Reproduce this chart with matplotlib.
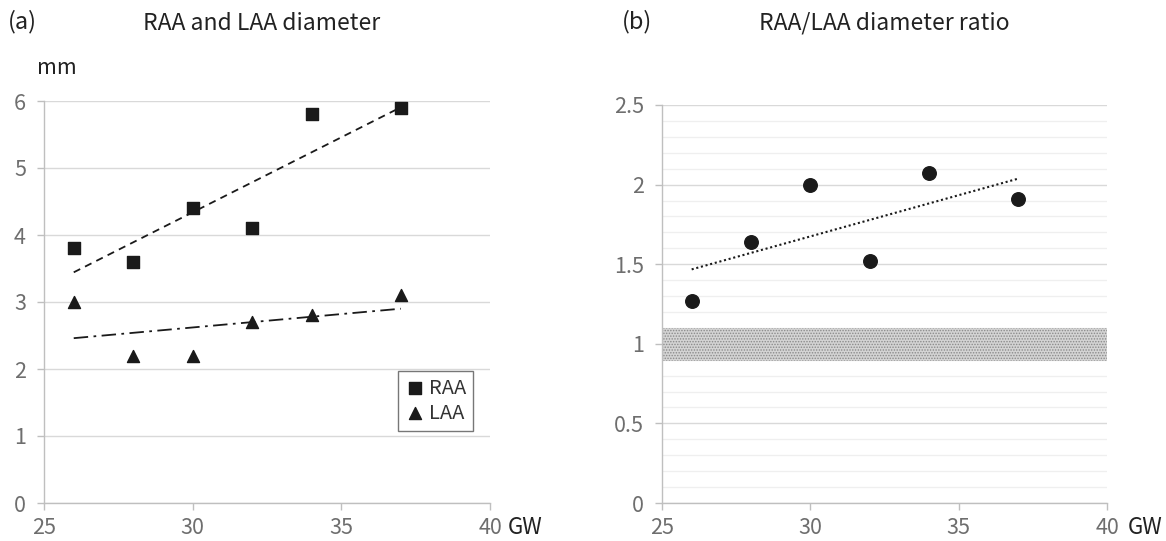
import matplotlib.pyplot as plt
import numpy as np

plt.rcParams["font.family"] = ["Noto Sans CJK JP", "DejaVu Sans"]
plt.rcParams["hatch.color"] = "#7a7a7a"
plt.rcParams["hatch.linewidth"] = 0.7

gw = [26, 28, 30, 32, 34, 37]
raa = [3.8, 3.6, 4.4, 4.1, 5.8, 5.9]
laa = [3.0, 2.2, 2.2, 2.7, 2.8, 3.1]
ratio = [1.27, 1.64, 2.0, 1.52, 2.07, 1.91]
normal_band = (0.89, 1.1)

tick_gray = "#6e6e6e"
grid_gray = "#d9d9d9"


def trend(x, y):
    k, b = np.polyfit(x, y, 1)
    xs = np.array([min(x), max(x)])
    return xs, k * xs + b


def style_axis(ax):
    for s in ["top", "right"]:
        ax.spines[s].set_visible(False)
    for s in ["left", "bottom"]:
        ax.spines[s].set_color("#bfbfbf")
        ax.spines[s].set_linewidth(1.0)
    ax.tick_params(axis="both", colors="#bfbfbf", labelcolor=tick_gray,
                   labelsize=15.5, length=5, width=1.0)
    ax.tick_params(axis="y", pad=8)
    ax.tick_params(axis="x", pad=5)
    ax.set_xlim(25, 40)
    ax.set_xticks([25, 30, 35, 40])
    ax.set_axisbelow(True)


fig = plt.figure(figsize=(11.66, 5.41), dpi=100)

# (a) diameters
ax1 = fig.add_axes([44 / 1166, 38 / 541, 446 / 1166, 402 / 541])
style_axis(ax1)
ax1.set_ylim(0, 6)
ax1.set_yticks(range(0, 7))
ax1.yaxis.grid(True, color=grid_gray, linewidth=1.0)
ax1.scatter(gw, raa, marker="s", s=70, color="#1a1a1a", label="RAA", zorder=3)
ax1.scatter(gw, laa, marker="^", s=75, color="#1a1a1a", label="LAA", zorder=3)
tx, ty = trend(gw, raa)
ax1.plot(tx, ty, color="#1a1a1a", linestyle=(0, (4, 3)), linewidth=1.3)
tx, ty = trend(gw, laa)
ax1.plot(tx, ty, color="#1a1a1a", linestyle=(0, (8, 3, 1.5, 3)), linewidth=1.3)
leg = ax1.legend(loc="lower right", bbox_to_anchor=(0.962, 0.18), fontsize=14.5,
                 frameon=True, fancybox=False, edgecolor="#555555",
                 handletextpad=0.2, borderpad=0.35, labelspacing=0.2,
                 handlelength=1.0, borderaxespad=0)
leg.get_frame().set_linewidth(1.0)
for t in leg.get_texts():
    t.set_color("#333333")

fig.text(8 / 1166, 1 - 22 / 541, "(a)", fontsize=17, color="#222222", va="center")
fig.text(262 / 1166, 1 - 23 / 541, "RAA and LAA diameter", fontsize=16.5,
         color="#222222", ha="center", va="center")
fig.text(37 / 1166, 1 - 68 / 541, "mm", fontsize=15.5, color="#222222", va="center")
fig.text(508 / 1166, 1 - 527 / 541, "GW", fontsize=16, color="#222222", va="center")

# (b) ratio
ax2 = fig.add_axes([662 / 1166, 38 / 541, 445 / 1166, 398 / 541])
style_axis(ax2)
ax2.set_ylim(0, 2.5)
ax2.set_yticks([0, 0.5, 1, 1.5, 2, 2.5])
ax2.set_yticklabels(["0", "0.5", "1", "1.5", "2", "2.5"])
ax2.set_yticks(np.arange(0.1, 2.5, 0.1), minor=True)
ax2.tick_params(axis="y", which="minor", length=0)
ax2.yaxis.grid(True, which="major", color=grid_gray, linewidth=1.0)
ax2.yaxis.grid(True, which="minor", color="#efefef", linewidth=0.9)
ax2.axhspan(normal_band[0], normal_band[1], facecolor="#d4d4d4",
            edgecolor="#8a8a8a", hatch="......", linewidth=0, zorder=1)
ax2.scatter(gw, ratio, marker="o", s=95, color="#1a1a1a", zorder=3)
tx, ty = trend(gw, ratio)
ax2.plot(tx, ty, color="#1a1a1a", linestyle=(0, (1, 1.3)), linewidth=1.5)

fig.text(622 / 1166, 1 - 22 / 541, "(b)", fontsize=17, color="#222222", va="center")
fig.text(884 / 1166, 1 - 23 / 541, "RAA/LAA diameter ratio", fontsize=16.5,
         color="#222222", ha="center", va="center")
fig.text(1128 / 1166, 1 - 527 / 541, "GW", fontsize=16, color="#222222", va="center")

fig.savefig("out.png", dpi=100)
